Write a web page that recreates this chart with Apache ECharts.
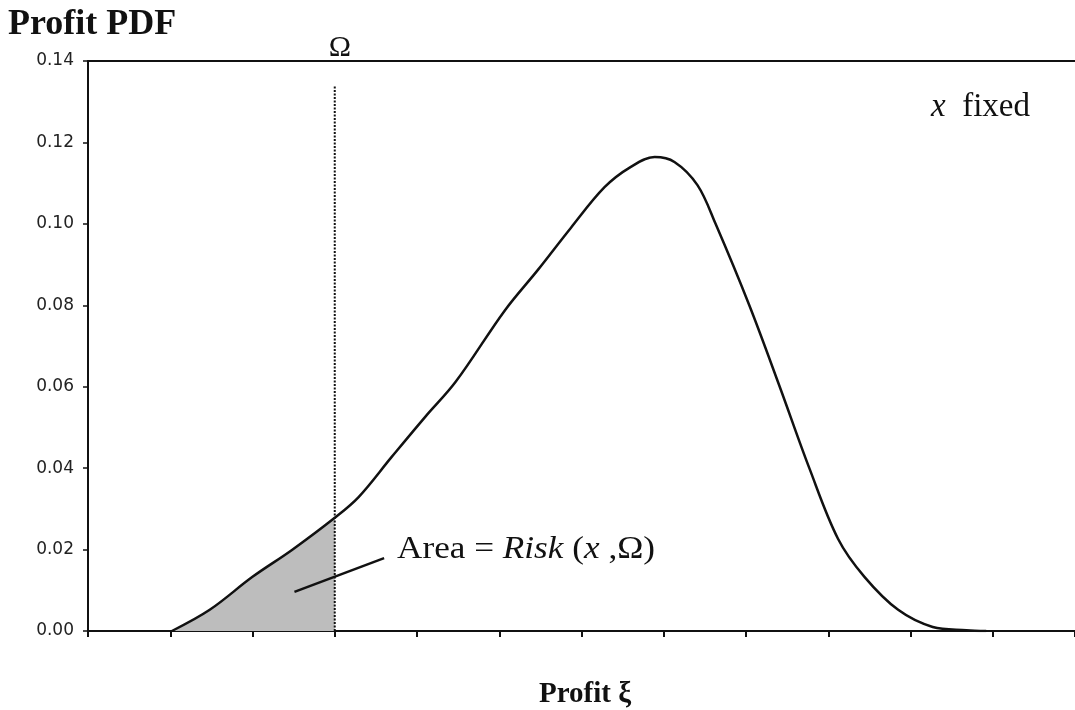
<!DOCTYPE html>
<html>
<head>
<meta charset="utf-8">
<script src="https://cdn.jsdelivr.net/npm/echarts@6/dist/echarts.min.js"></script>
<style>html,body{margin:0;padding:0;background:#fff}#c{width:1075px;height:710px}</style>
</head>
<body>
<div id="c"></div>
<script>
// Profit values (x, in tick units) and PDF values
const profitX = [1.02, 1.48, 2.0, 2.48, 3.0, 3.29, 3.69, 4.10, 4.47, 5.07, 5.47, 5.87, 6.28, 6.60, 6.89, 7.13, 7.41, 7.63, 8.04, 8.41, 8.77, 9.12, 9.44, 9.85, 10.27, 10.68, 10.92];
const pdfY    = [0.0, 0.0052, 0.0133, 0.0199, 0.0278, 0.0329, 0.0427, 0.0526, 0.0612, 0.0788, 0.0887, 0.0990, 0.1090, 0.1140, 0.1164, 0.1152, 0.1095, 0.1000, 0.0800, 0.0600, 0.0400, 0.0226, 0.0133, 0.0052, 0.0010, 0.0002, 0.0];
const omegaX = 3.0;
const omegaTop = 0.134;
const pointerX = [2.51, 3.60];
const pointerY = [0.0096, 0.0179];
const yTicks = [0, 0.02, 0.04, 0.06, 0.08, 0.10, 0.12, 0.14];

const curve = profitX.map((x, i) => [x, pdfY[i]]);
const shaded = curve.filter(p => p[0] <= omegaX);

const chart = echarts.init(document.getElementById('c'), null, {renderer: 'canvas'});
const black = '#111';
const serif = '"Liberation Serif", "Times New Roman", serif';

chart.setOption({
  animation: false,
  backgroundColor: '#fff',
  grid: {left: 88, top: 61, width: 991, height: 570},
  xAxis: [{
    type: 'value', min: 0, max: 12, interval: 1,
    axisLine: {show: true, lineStyle: {color: black, width: 2}},
    axisTick: {show: true, length: 6, lineStyle: {color: black, width: 2}},
    axisLabel: {show: false},
    splitLine: {show: false}
  }, {
    type: 'value', min: 0, max: 12, interval: 1, position: 'top',
    axisLine: {show: true, onZero: false, lineStyle: {color: black, width: 2}},
    axisTick: {show: false}, axisLabel: {show: false}, splitLine: {show: false}
  }],
  yAxis: {
    type: 'value', min: 0, max: yTicks[yTicks.length - 1], interval: 0.02,
    axisLine: {show: true, lineStyle: {color: black, width: 2}},
    axisTick: {show: true, length: 5, lineStyle: {color: black, width: 1.5}},
    axisLabel: {
      color: '#222', fontFamily: '"DejaVu Sans", sans-serif', fontSize: 17, margin: 14,
      formatter: v => v.toFixed(2)
    },
    splitLine: {show: false}
  },
  series: [
    {
      type: 'line', data: shaded, smooth: 0.3, symbol: 'none', z: 1,
      lineStyle: {width: 0, opacity: 0},
      areaStyle: {color: '#bdbdbd', opacity: 1}
    },
    {
      type: 'line', data: curve, smooth: 0.35, symbol: 'none', z: 3,
      lineStyle: {color: black, width: 2.5}
    },
    {
      type: 'line', data: [[omegaX, 0], [omegaX, omegaTop]], symbol: 'none', z: 2,
      lineStyle: {color: black, width: 2, type: [2, 1.5]}
    },
    {
      type: 'line', data: pointerX.map((x, i) => [x, pointerY[i]]), symbol: 'none', z: 4,
      lineStyle: {color: black, width: 2.5}
    }
  ],
  graphic: [
    {type: 'text', left: 8, top: 7, style: {text: 'Profit PDF', font: 'bold 36px ' + serif, fill: black}},
    {type: 'text', x: 340, y: 48, style: {text: 'Ω', font: '30px ' + serif, fill: black, align: 'center', verticalAlign: 'middle'}},
    {type: 'text', x: 931, y: 107, style: {
      text: '{i|x}{n|  fixed}', verticalAlign: 'middle', fill: black,
      rich: {i: {font: 'italic 33px ' + serif, fill: black}, n: {font: '33px ' + serif, fill: black}}
    }},
    {type: 'text', x: 397, y: 550, scaleX: 1.1, style: {
      text: '{n|Area = }{i|Risk}{n| (}{i|x}{n| ,Ω)}', verticalAlign: 'middle', fill: black,
      rich: {i: {font: 'italic 32px ' + serif, fill: black}, n: {font: '32px ' + serif, fill: black}}
    }},
    {type: 'text', x: 585, y: 695, style: {text: 'Profit ξ', font: 'bold 29px ' + serif, fill: black, align: 'center', verticalAlign: 'middle'}}
  ]
});
</script>
</body>
</html>
